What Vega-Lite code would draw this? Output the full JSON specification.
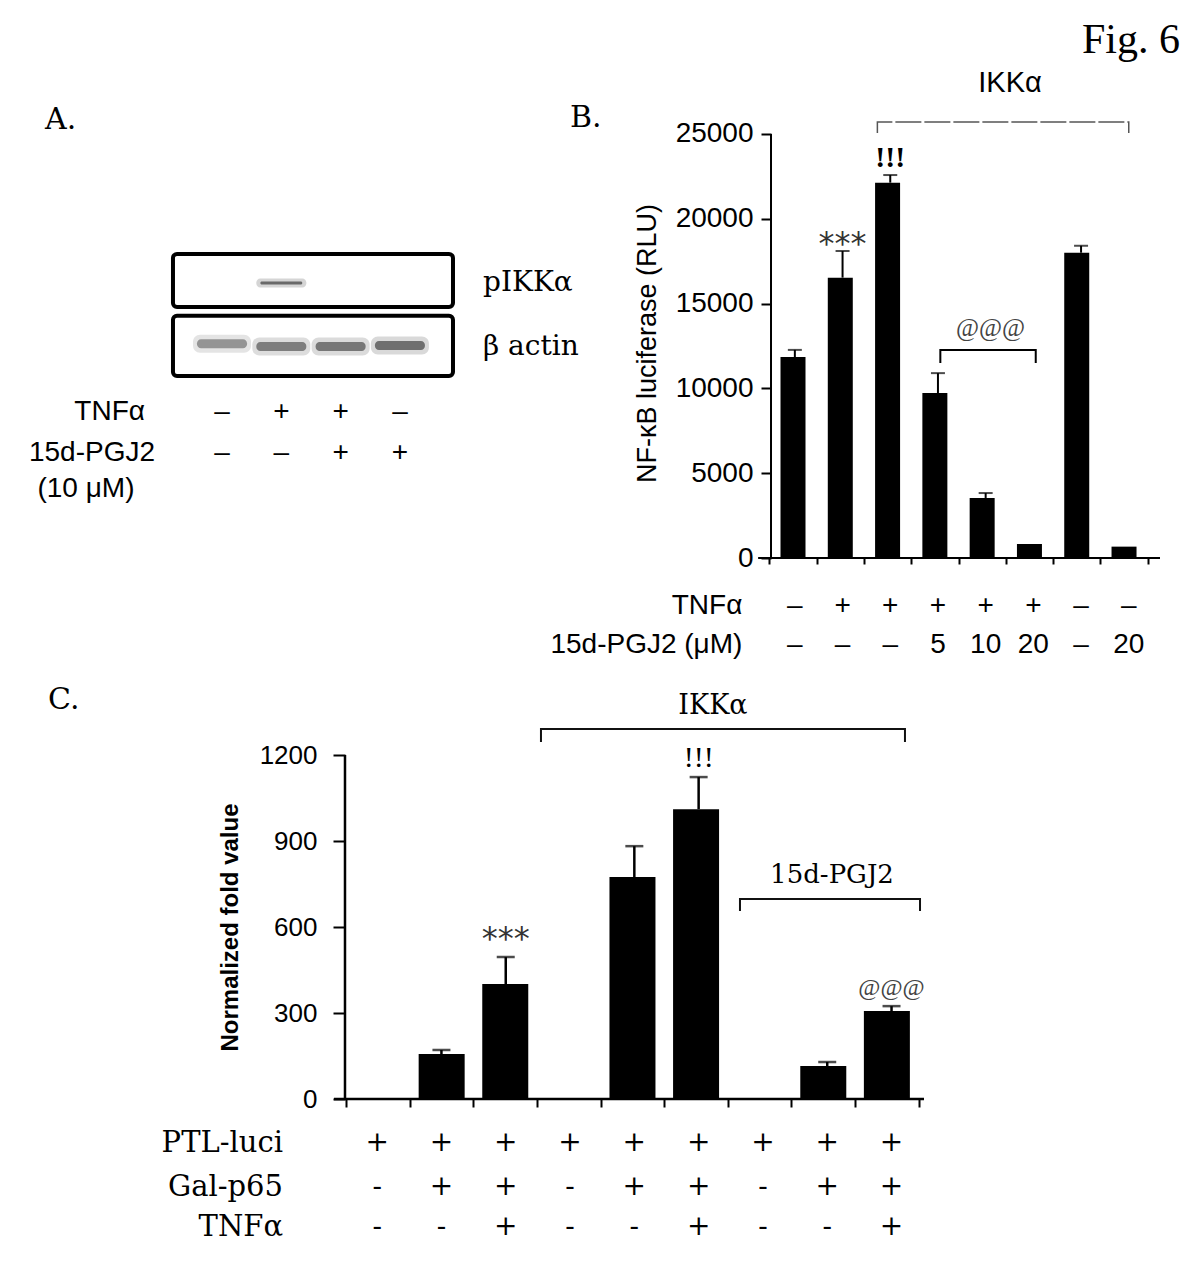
{
  "$schema": "https://vega.github.io/schema/vega-lite/v6.json",
  "padding": 0,
  "background": "white",
  "config": {"view": {"stroke": null}, "axis": {"grid": false}, "font": "Liberation Sans"},
  "datasets": {
    "b": [
      {"i": 1, "tnf": "–", "pgj": "–", "v": 11850, "e": 12270},
      {"i": 2, "tnf": "+", "pgj": "–", "v": 16530, "e": 18100},
      {"i": 3, "tnf": "+", "pgj": "–", "v": 22130, "e": 22580},
      {"i": 4, "tnf": "+", "pgj": "5", "v": 9730, "e": 10900},
      {"i": 5, "tnf": "+", "pgj": "10", "v": 3540, "e": 3830},
      {"i": 6, "tnf": "+", "pgj": "20", "v": 820, "e": 820},
      {"i": 7, "tnf": "–", "pgj": "–", "v": 18000, "e": 18410},
      {"i": 8, "tnf": "–", "pgj": "20", "v": 670, "e": 670}
    ],
    "b_axes": [
      {"x0": 0.5, "x1": 0.5, "y0": 0, "y1": 25000},
      {"x0": 0.23, "x1": 8.655, "y0": 0, "y1": 0}
    ],
    "b_brackets": [
      {"grp": "IKKα", "o": 1, "x": 2.73, "y": 25058},
      {"grp": "IKKα", "o": 2, "x": 2.73, "y": 25707},
      {"grp": "IKKα", "o": 3, "x": 8.0, "y": 25707},
      {"grp": "IKKα", "o": 4, "x": 8.0, "y": 25058},
      {"grp": "@@@", "o": 1, "x": 4.05, "y": 11497},
      {"grp": "@@@", "o": 2, "x": 4.05, "y": 12264},
      {"grp": "@@@", "o": 3, "x": 6.05, "y": 12264},
      {"grp": "@@@", "o": 4, "x": 6.05, "y": 11497}
    ],
    "c": [
      {"i": 1, "ptl": "+", "gal": "-", "tnf": "-", "v": 0, "e": 0},
      {"i": 2, "ptl": "+", "gal": "+", "tnf": "-", "v": 157, "e": 171},
      {"i": 3, "ptl": "+", "gal": "+", "tnf": "+", "v": 401, "e": 495},
      {"i": 4, "ptl": "+", "gal": "-", "tnf": "-", "v": 0, "e": 0},
      {"i": 5, "ptl": "+", "gal": "+", "tnf": "-", "v": 774, "e": 882},
      {"i": 6, "ptl": "+", "gal": "+", "tnf": "+", "v": 1011, "e": 1123},
      {"i": 7, "ptl": "+", "gal": "-", "tnf": "-", "v": 0, "e": 0},
      {"i": 8, "ptl": "+", "gal": "+", "tnf": "-", "v": 115, "e": 129},
      {"i": 9, "ptl": "+", "gal": "+", "tnf": "+", "v": 307, "e": 324}
    ],
    "c_axes": [
      {"x0": 0.5, "x1": 0.5, "y0": 0, "y1": 1200},
      {"x0": 0.329, "x1": 9.505, "y0": 0, "y1": 0}
    ],
    "c_brackets": [
      {"grp": "IKKα", "o": 1, "x": 3.548, "y": 1245},
      {"grp": "IKKα", "o": 2, "x": 3.548, "y": 1291},
      {"grp": "IKKα", "o": 3, "x": 9.209, "y": 1291},
      {"grp": "IKKα", "o": 4, "x": 9.209, "y": 1245},
      {"grp": "15d", "o": 1, "x": 6.643, "y": 656},
      {"grp": "15d", "o": 2, "x": 6.643, "y": 698},
      {"grp": "15d", "o": 3, "x": 9.443, "y": 698},
      {"grp": "15d", "o": 4, "x": 9.443, "y": 656}
    ],
    "a_lanes": [
      {"lane": 1, "tnf": "–", "pgj": "–"},
      {"lane": 2, "tnf": "+", "pgj": "–"},
      {"lane": 3, "tnf": "+", "pgj": "+"},
      {"lane": 4, "tnf": "–", "pgj": "+"}
    ],
    "a_blots": [
      {"blot": "pIKKα", "l0": 0.173, "l1": 4.895, "p0": 45.5, "p1": 55.0, "lp": 50.7},
      {"blot": "β actin", "l0": 0.173, "l1": 4.895, "p0": 56.6, "p1": 67.4, "lp": 62.2}
    ],
    "a_bands": [
      {"blot": "pIKKα", "lane": 2, "p": 50.7, "intensity": 0.75},
      {"blot": "β actin", "lane": 1, "p": 61.6, "intensity": 0.6},
      {"blot": "β actin", "lane": 2, "p": 62.1, "intensity": 0.75},
      {"blot": "β actin", "lane": 3, "p": 62.1, "intensity": 0.8},
      {"blot": "β actin", "lane": 4, "p": 61.9, "intensity": 0.85}
    ]
  },
  "bounds": "flush",
  "spacing": 197,
  "vconcat": [
    {
      "width": 1160,
      "height": 558,
      "resolve": {"scale": {"x": "independent", "y": "independent"}},
      "layer": [
        {
          "data": {"name": "a_blots"},
          "mark": {"type": "rect", "fillOpacity": 0, "stroke": "black", "strokeWidth": 4, "cornerRadius": 4},
          "encoding": {
            "x": {"field": "l0", "type": "quantitative", "scale": {"domain": [-2.744, 16.8176], "nice": false, "zero": false}, "axis": null},
            "x2": {"field": "l1"},
            "y": {"field": "p0", "type": "quantitative", "scale": {"domain": [0, 100], "nice": false, "zero": false, "reverse": true}, "axis": null},
            "y2": {"field": "p1"}
          }
        },
        {
          "data": {"name": "a_bands"},
          "transform": [{"filter": "datum.blot == 'pIKKα'"}],
          "mark": {"type": "tick", "orient": "horizontal", "size": 50, "thickness": 9, "color": "#222", "fillOpacity": 0.25, "cornerRadius": 4},
          "encoding": {
            "x": {"field": "lane", "type": "quantitative", "scale": {"domain": [-2.744, 16.8176], "nice": false, "zero": false}, "axis": null},
            "y": {"field": "p", "type": "quantitative", "scale": {"domain": [0, 100], "nice": false, "zero": false, "reverse": true}, "axis": null},
            "opacity": {"field": "intensity", "type": "quantitative", "scale": {"domain": [0, 1], "range": [0, 1]}, "legend": null}
          }
        },
        {
          "data": {"name": "a_bands"},
          "transform": [{"filter": "datum.blot == 'pIKKα'"}],
          "mark": {"type": "tick", "orient": "horizontal", "size": 42, "thickness": 3, "color": "#222", "fillOpacity": 0.8, "cornerRadius": 2},
          "encoding": {
            "x": {"field": "lane", "type": "quantitative", "scale": {"domain": [-2.744, 16.8176], "nice": false, "zero": false}, "axis": null},
            "y": {"field": "p", "type": "quantitative", "scale": {"domain": [0, 100], "nice": false, "zero": false, "reverse": true}, "axis": null},
            "opacity": {"field": "intensity", "type": "quantitative", "scale": {"domain": [0, 1], "range": [0, 1]}, "legend": null}
          }
        },
        {
          "data": {"name": "a_bands"},
          "transform": [{"filter": "datum.blot == 'β actin'"}],
          "mark": {"type": "tick", "orient": "horizontal", "size": 58, "thickness": 18, "color": "#333", "fillOpacity": 0.22, "cornerRadius": 7},
          "encoding": {
            "x": {"field": "lane", "type": "quantitative", "scale": {"domain": [-2.744, 16.8176], "nice": false, "zero": false}, "axis": null},
            "y": {"field": "p", "type": "quantitative", "scale": {"domain": [0, 100], "nice": false, "zero": false, "reverse": true}, "axis": null},
            "opacity": {"field": "intensity", "type": "quantitative", "scale": {"domain": [0, 1], "range": [0, 1]}, "legend": null}
          }
        },
        {
          "data": {"name": "a_bands"},
          "transform": [{"filter": "datum.blot == 'β actin'"}],
          "mark": {"type": "tick", "orient": "horizontal", "size": 50, "thickness": 9, "color": "#333", "fillOpacity": 0.75, "cornerRadius": 4},
          "encoding": {
            "x": {"field": "lane", "type": "quantitative", "scale": {"domain": [-2.744, 16.8176], "nice": false, "zero": false}, "axis": null},
            "y": {"field": "p", "type": "quantitative", "scale": {"domain": [0, 100], "nice": false, "zero": false, "reverse": true}, "axis": null},
            "opacity": {"field": "intensity", "type": "quantitative", "scale": {"domain": [0, 1], "range": [0, 1]}, "legend": null}
          }
        },
        {
          "data": {"name": "a_blots"},
          "mark": {"type": "text", "font": "DejaVu Serif", "fontSize": 28, "align": "left", "baseline": "middle", "color": "black"},
          "encoding": {
            "x": {"datum": 5.401, "type": "quantitative", "scale": {"domain": [-2.744, 16.8176], "nice": false, "zero": false}, "axis": null},
            "y": {"field": "lp", "type": "quantitative", "scale": {"domain": [0, 100], "nice": false, "zero": false, "reverse": true}, "axis": null},
            "text": {"field": "blot"}
          }
        },
        {
          "data": {"name": "a_lanes"},
          "mark": {"type": "text", "font": "Liberation Sans", "fontSize": 28, "align": "center", "baseline": "middle", "color": "black"},
          "encoding": {
            "x": {"field": "lane", "type": "quantitative", "scale": {"domain": [-2.744, 16.8176], "nice": false, "zero": false}, "axis": null},
            "y": {"datum": 73.84, "type": "quantitative", "scale": {"domain": [0, 100], "nice": false, "zero": false, "reverse": true}, "axis": null},
            "text": {"field": "tnf"}
          }
        },
        {
          "data": {"name": "a_lanes"},
          "mark": {"type": "text", "font": "Liberation Sans", "fontSize": 28, "align": "center", "baseline": "middle", "color": "black"},
          "encoding": {
            "x": {"field": "lane", "type": "quantitative", "scale": {"domain": [-2.744, 16.8176], "nice": false, "zero": false}, "axis": null},
            "y": {"datum": 81.18, "type": "quantitative", "scale": {"domain": [0, 100], "nice": false, "zero": false, "reverse": true}, "axis": null},
            "text": {"field": "pgj"}
          }
        },
        {
          "data": {"values": [{"t": "TNFα", "x": -0.299, "y": 73.84}, {"t": "15d-PGJ2", "x": -0.13, "y": 81.18}]},
          "mark": {"type": "text", "font": "Liberation Sans", "fontSize": 28, "align": "right", "baseline": "middle", "color": "black"},
          "encoding": {
            "x": {"field": "x", "type": "quantitative", "scale": {"domain": [-2.744, 16.8176], "nice": false, "zero": false}, "axis": null},
            "y": {"field": "y", "type": "quantitative", "scale": {"domain": [0, 100], "nice": false, "zero": false, "reverse": true}, "axis": null},
            "text": {"field": "t"}
          }
        },
        {
          "data": {"values": [{"t": "(10 μM)", "x": -1.294, "y": 87.63}]},
          "mark": {"type": "text", "font": "Liberation Sans", "fontSize": 28, "align": "center", "baseline": "middle", "color": "black"},
          "encoding": {
            "x": {"field": "x", "type": "quantitative", "scale": {"domain": [-2.744, 16.8176], "nice": false, "zero": false}, "axis": null},
            "y": {"field": "y", "type": "quantitative", "scale": {"domain": [0, 100], "nice": false, "zero": false, "reverse": true}, "axis": null},
            "text": {"field": "t"}
          }
        },
        {
          "data": {"values": [{"t": "A.", "x": -1.985, "y": 21.5}]},
          "mark": {"type": "text", "font": "DejaVu Serif", "fontSize": 30, "align": "left", "baseline": "middle", "color": "black"},
          "encoding": {
            "x": {"field": "x", "type": "quantitative", "scale": {"domain": [-2.744, 16.8176], "nice": false, "zero": false}, "axis": null},
            "y": {"field": "y", "type": "quantitative", "scale": {"domain": [0, 100], "nice": false, "zero": false, "reverse": true}, "axis": null},
            "text": {"field": "t"}
          }
        },
        {
          "data": {"name": "b"},
          "mark": {"type": "bar", "orient": "vertical", "width": 25, "color": "black"},
          "encoding": {
            "x": {"field": "i", "type": "quantitative", "scale": {"domain": [-15.6635, 8.655], "nice": false, "zero": false}, "title": null,
              "axis": {"values": [0.5, 1.5, 2.5, 3.5, 4.5, 5.5, 6.5, 7.5, 8.5], "labels": false, "domain": false, "tickSize": 6, "tickWidth": 2, "tickColor": "black", "grid": false, "title": null}},
            "y": {"field": "v", "type": "quantitative", "scale": {"domain": [0, 32900], "nice": false, "zero": false}, "title": null,
              "axis": {"values": [0, 5000, 10000, 15000, 20000, 25000], "format": "d", "offset": -771, "domain": false, "tickSize": 10, "tickWidth": 2, "tickColor": "black",
                "labelFont": "Liberation Sans", "labelFontSize": 28, "labelColor": "black", "labelPadding": 8, "grid": false,
                "title": "NF-κB luciferase (RLU)", "titleFont": "Liberation Sans", "titleFontSize": 27, "titleFontWeight": "normal", "titleColor": "black", "titleX": -110, "titleY": 343}}
          }
        },
        {
          "data": {"name": "b"},
          "transform": [{"filter": "datum.e > datum.v"}],
          "mark": {"type": "rule", "strokeWidth": 2, "color": "black"},
          "encoding": {
            "x": {"field": "i", "type": "quantitative", "scale": {"domain": [-15.6635, 8.655], "nice": false, "zero": false}, "axis": null},
            "y": {"field": "v", "type": "quantitative", "scale": {"domain": [0, 32900], "nice": false, "zero": false}, "axis": null},
            "y2": {"field": "e"}
          }
        },
        {
          "data": {"name": "b"},
          "transform": [{"filter": "datum.e > datum.v"}],
          "mark": {"type": "tick", "orient": "horizontal", "size": 14, "thickness": 2, "color": "black"},
          "encoding": {
            "x": {"field": "i", "type": "quantitative", "scale": {"domain": [-15.6635, 8.655], "nice": false, "zero": false}, "axis": null},
            "y": {"field": "e", "type": "quantitative", "scale": {"domain": [0, 32900], "nice": false, "zero": false}, "axis": null}
          }
        },
        {
          "data": {"name": "b_axes"},
          "mark": {"type": "rule", "strokeWidth": 2, "color": "black"},
          "encoding": {
            "x": {"field": "x0", "type": "quantitative", "scale": {"domain": [-15.6635, 8.655], "nice": false, "zero": false}, "axis": null},
            "x2": {"field": "x1"},
            "y": {"field": "y0", "type": "quantitative", "scale": {"domain": [0, 32900], "nice": false, "zero": false}, "axis": null},
            "y2": {"field": "y1"}
          }
        },
        {
          "data": {"name": "b"},
          "mark": {"type": "text", "font": "Liberation Sans", "fontSize": 28, "align": "center", "baseline": "middle", "color": "black"},
          "encoding": {
            "x": {"field": "i", "type": "quantitative", "scale": {"domain": [-15.6635, 8.655], "nice": false, "zero": false}, "axis": null},
            "y": {"datum": -2830, "type": "quantitative", "scale": {"domain": [0, 32900], "nice": false, "zero": false}, "axis": null},
            "text": {"field": "tnf"}
          }
        },
        {
          "data": {"name": "b"},
          "mark": {"type": "text", "font": "Liberation Sans", "fontSize": 28, "align": "center", "baseline": "middle", "color": "black"},
          "encoding": {
            "x": {"field": "i", "type": "quantitative", "scale": {"domain": [-15.6635, 8.655], "nice": false, "zero": false}, "axis": null},
            "y": {"datum": -5130, "type": "quantitative", "scale": {"domain": [0, 32900], "nice": false, "zero": false}, "axis": null},
            "text": {"field": "pgj"}
          }
        },
        {
          "data": {"values": [{"t": "TNFα", "x": -0.1, "y": -2830}, {"t": "15d-PGJ2 (μM)", "x": -0.1, "y": -5130}]},
          "mark": {"type": "text", "font": "Liberation Sans", "fontSize": 28, "align": "right", "baseline": "middle", "color": "black"},
          "encoding": {
            "x": {"field": "x", "type": "quantitative", "scale": {"domain": [-15.6635, 8.655], "nice": false, "zero": false}, "axis": null},
            "y": {"field": "y", "type": "quantitative", "scale": {"domain": [0, 32900], "nice": false, "zero": false}, "axis": null},
            "text": {"field": "t"}
          }
        },
        {
          "data": {"name": "b_brackets"},
          "transform": [{"filter": "datum.grp == 'IKKα'"}],
          "mark": {"type": "line", "color": "#555", "strokeWidth": 1.5, "strokeDash": [26, 3], "strokeCap": "butt"},
          "encoding": {
            "x": {"field": "x", "type": "quantitative", "scale": {"domain": [-15.6635, 8.655], "nice": false, "zero": false}, "axis": null},
            "y": {"field": "y", "type": "quantitative", "scale": {"domain": [0, 32900], "nice": false, "zero": false}, "axis": null},
            "order": {"field": "o"}
          }
        },
        {
          "data": {"name": "b_brackets"},
          "transform": [{"filter": "datum.grp == '@@@'"}],
          "mark": {"type": "line", "color": "black", "strokeWidth": 2, "strokeCap": "butt"},
          "encoding": {
            "x": {"field": "x", "type": "quantitative", "scale": {"domain": [-15.6635, 8.655], "nice": false, "zero": false}, "axis": null},
            "y": {"field": "y", "type": "quantitative", "scale": {"domain": [0, 32900], "nice": false, "zero": false}, "axis": null},
            "order": {"field": "o"}
          }
        },
        {
          "data": {"values": [{"t": "IKKα", "x": 5.51, "y": 28006}]},
          "mark": {"type": "text", "font": "Liberation Sans", "fontSize": 29, "align": "center", "baseline": "middle", "color": "black"},
          "encoding": {
            "x": {"field": "x", "type": "quantitative", "scale": {"domain": [-15.6635, 8.655], "nice": false, "zero": false}, "axis": null},
            "y": {"field": "y", "type": "quantitative", "scale": {"domain": [0, 32900], "nice": false, "zero": false}, "axis": null},
            "text": {"field": "t"}
          }
        },
        {
          "data": {"values": [{"t": "***", "x": 2, "y": 17950}]},
          "mark": {"type": "text", "font": "DejaVu Sans", "fontSize": 32, "align": "center", "baseline": "alphabetic", "color": "#333"},
          "encoding": {
            "x": {"field": "x", "type": "quantitative", "scale": {"domain": [-15.6635, 8.655], "nice": false, "zero": false}, "axis": null},
            "y": {"field": "y", "type": "quantitative", "scale": {"domain": [0, 32900], "nice": false, "zero": false}, "axis": null},
            "text": {"field": "t"}
          }
        },
        {
          "data": {"values": [{"t": "!!!", "x": 3, "y": 23053}]},
          "mark": {"type": "text", "font": "Liberation Serif", "fontSize": 30, "fontWeight": "bold", "align": "center", "baseline": "alphabetic", "color": "black"},
          "encoding": {
            "x": {"field": "x", "type": "quantitative", "scale": {"domain": [-15.6635, 8.655], "nice": false, "zero": false}, "axis": null},
            "y": {"field": "y", "type": "quantitative", "scale": {"domain": [0, 32900], "nice": false, "zero": false}, "axis": null},
            "text": {"field": "t"}
          }
        },
        {
          "data": {"values": [{"t": "@@@", "x": 5.1, "y": 13089}]},
          "mark": {"type": "text", "font": "Liberation Serif", "fontSize": 25, "align": "center", "baseline": "alphabetic", "color": "#444"},
          "encoding": {
            "x": {"field": "x", "type": "quantitative", "scale": {"domain": [-15.6635, 8.655], "nice": false, "zero": false}, "axis": null},
            "y": {"field": "y", "type": "quantitative", "scale": {"domain": [0, 32900], "nice": false, "zero": false}, "axis": null},
            "text": {"field": "t"}
          }
        },
        {
          "data": {"values": [{"t": "B.", "x": -3.714, "y": 25942}]},
          "mark": {"type": "text", "font": "DejaVu Serif", "fontSize": 30, "align": "left", "baseline": "middle", "color": "black"},
          "encoding": {
            "x": {"field": "x", "type": "quantitative", "scale": {"domain": [-15.6635, 8.655], "nice": false, "zero": false}, "axis": null},
            "y": {"field": "y", "type": "quantitative", "scale": {"domain": [0, 32900], "nice": false, "zero": false}, "axis": null},
            "text": {"field": "t"}
          }
        },
        {
          "data": {"values": [{"t": "Fig. 6", "x": 9.074, "y": 29775}]},
          "mark": {"type": "text", "font": "Liberation Serif", "fontSize": 42, "align": "right", "baseline": "alphabetic", "color": "black"},
          "encoding": {
            "x": {"field": "x", "type": "quantitative", "scale": {"domain": [-15.6635, 8.655], "nice": false, "zero": false}, "axis": null},
            "y": {"field": "y", "type": "quantitative", "scale": {"domain": [0, 32900], "nice": false, "zero": false}, "axis": null},
            "text": {"field": "t"}
          }
        }
      ]
    },
    {
      "width": 924,
      "height": 344,
      "data": {"name": "c"},
      "resolve": {"scale": {"x": "independent", "y": "independent"}},
      "layer": [
        {
          "mark": {"type": "bar", "orient": "vertical", "width": 46, "color": "black"},
          "encoding": {
            "x": {"field": "i", "type": "quantitative", "scale": {"domain": [-4.8654, 9.505], "nice": false, "zero": false}, "title": null,
              "axis": {"values": [0.5, 1.5, 2.5, 3.5, 4.5, 5.5, 6.5, 7.5, 8.5, 9.5], "labels": false, "domain": false, "tickSize": 8, "tickWidth": 2, "tickColor": "black", "grid": false, "title": null}},
            "y": {"field": "v", "type": "quantitative", "scale": {"domain": [0, 1200], "nice": false, "zero": false}, "title": null,
              "axis": {"values": [0, 300, 600, 900, 1200], "format": "d", "offset": -345, "domain": false, "tickSize": 12, "tickWidth": 2, "tickColor": "black",
                "labelFont": "Liberation Sans", "labelFontSize": 26, "labelColor": "black", "labelPadding": 16, "grid": false,
                "title": "Normalized fold value", "titleFont": "Liberation Sans", "titleFontSize": 24, "titleFontWeight": "bold", "titleColor": "black", "titleX": -103, "titleY": 172}}
          }
        },
        {
          "transform": [{"filter": "datum.e > datum.v"}],
          "mark": {"type": "rule", "strokeWidth": 2.5, "color": "black"},
          "encoding": {
            "x": {"field": "i", "type": "quantitative", "scale": {"domain": [-4.8654, 9.505], "nice": false, "zero": false}, "axis": null},
            "y": {"field": "v", "type": "quantitative", "scale": {"domain": [0, 1200], "nice": false, "zero": false}, "axis": null},
            "y2": {"field": "e"}
          }
        },
        {
          "transform": [{"filter": "datum.e > datum.v"}],
          "mark": {"type": "tick", "orient": "horizontal", "size": 18, "thickness": 2.5, "color": "black"},
          "encoding": {
            "x": {"field": "i", "type": "quantitative", "scale": {"domain": [-4.8654, 9.505], "nice": false, "zero": false}, "axis": null},
            "y": {"field": "e", "type": "quantitative", "scale": {"domain": [0, 1200], "nice": false, "zero": false}, "axis": null}
          }
        },
        {
          "data": {"name": "c_axes"},
          "mark": {"type": "rule", "strokeWidth": 2.5, "color": "black"},
          "encoding": {
            "x": {"field": "x0", "type": "quantitative", "scale": {"domain": [-4.8654, 9.505], "nice": false, "zero": false}, "axis": null},
            "x2": {"field": "x1"},
            "y": {"field": "y0", "type": "quantitative", "scale": {"domain": [0, 1200], "nice": false, "zero": false}, "axis": null},
            "y2": {"field": "y1"}
          }
        },
        {
          "mark": {"type": "text", "font": "DejaVu Serif", "fontSize": 28, "align": "center", "baseline": "middle", "color": "black"},
          "encoding": {
            "x": {"field": "i", "type": "quantitative", "scale": {"domain": [-4.8654, 9.505], "nice": false, "zero": false}, "axis": null},
            "y": {"datum": -153.5, "type": "quantitative", "scale": {"domain": [0, 1200], "nice": false, "zero": false}, "axis": null},
            "text": {"field": "ptl"}
          }
        },
        {
          "mark": {"type": "text", "font": "DejaVu Serif", "fontSize": 28, "align": "center", "baseline": "middle", "color": "black"},
          "encoding": {
            "x": {"field": "i", "type": "quantitative", "scale": {"domain": [-4.8654, 9.505], "nice": false, "zero": false}, "axis": null},
            "y": {"datum": -307, "type": "quantitative", "scale": {"domain": [0, 1200], "nice": false, "zero": false}, "axis": null},
            "text": {"field": "gal"}
          }
        },
        {
          "mark": {"type": "text", "font": "DejaVu Serif", "fontSize": 28, "align": "center", "baseline": "middle", "color": "black"},
          "encoding": {
            "x": {"field": "i", "type": "quantitative", "scale": {"domain": [-4.8654, 9.505], "nice": false, "zero": false}, "axis": null},
            "y": {"datum": -446.5, "type": "quantitative", "scale": {"domain": [0, 1200], "nice": false, "zero": false}, "axis": null},
            "text": {"field": "tnf"}
          }
        },
        {
          "data": {"values": [{"t": "PTL-luci", "x": -0.464, "y": -153.5}, {"t": "Gal-p65", "x": -0.464, "y": -307}, {"t": "TNFα", "x": -0.464, "y": -446.5}]},
          "mark": {"type": "text", "font": "DejaVu Serif", "fontSize": 29, "align": "right", "baseline": "middle", "color": "black"},
          "encoding": {
            "x": {"field": "x", "type": "quantitative", "scale": {"domain": [-4.8654, 9.505], "nice": false, "zero": false}, "axis": null},
            "y": {"field": "y", "type": "quantitative", "scale": {"domain": [0, 1200], "nice": false, "zero": false}, "axis": null},
            "text": {"field": "t"}
          }
        },
        {
          "data": {"name": "c_brackets"},
          "mark": {"type": "line", "color": "#111", "strokeWidth": 2, "strokeCap": "butt"},
          "encoding": {
            "x": {"field": "x", "type": "quantitative", "scale": {"domain": [-4.8654, 9.505], "nice": false, "zero": false}, "axis": null},
            "y": {"field": "y", "type": "quantitative", "scale": {"domain": [0, 1200], "nice": false, "zero": false}, "axis": null},
            "detail": {"field": "grp"},
            "order": {"field": "o"}
          }
        },
        {
          "data": {"values": [{"t": "IKKα", "x": 6.223, "y": 1371}]},
          "mark": {"type": "text", "font": "DejaVu Serif", "fontSize": 27, "align": "center", "baseline": "middle", "color": "black"},
          "encoding": {
            "x": {"field": "x", "type": "quantitative", "scale": {"domain": [-4.8654, 9.505], "nice": false, "zero": false}, "axis": null},
            "y": {"field": "y", "type": "quantitative", "scale": {"domain": [0, 1200], "nice": false, "zero": false}, "axis": null},
            "text": {"field": "t"}
          }
        },
        {
          "data": {"values": [{"t": "15d-PGJ2", "x": 8.074, "y": 781}]},
          "mark": {"type": "text", "font": "DejaVu Serif", "fontSize": 26, "align": "center", "baseline": "middle", "color": "black"},
          "encoding": {
            "x": {"field": "x", "type": "quantitative", "scale": {"domain": [-4.8654, 9.505], "nice": false, "zero": false}, "axis": null},
            "y": {"field": "y", "type": "quantitative", "scale": {"domain": [0, 1200], "nice": false, "zero": false}, "axis": null},
            "text": {"field": "t"}
          }
        },
        {
          "data": {"values": [{"t": "***", "x": 3, "y": 525}]},
          "mark": {"type": "text", "font": "DejaVu Sans", "fontSize": 32, "align": "center", "baseline": "alphabetic", "color": "#333"},
          "encoding": {
            "x": {"field": "x", "type": "quantitative", "scale": {"domain": [-4.8654, 9.505], "nice": false, "zero": false}, "axis": null},
            "y": {"field": "y", "type": "quantitative", "scale": {"domain": [0, 1200], "nice": false, "zero": false}, "axis": null},
            "text": {"field": "t"}
          }
        },
        {
          "data": {"values": [{"t": "!!!", "x": 6, "y": 1158}]},
          "mark": {"type": "text", "font": "Liberation Serif", "fontSize": 30, "align": "center", "baseline": "alphabetic", "color": "black"},
          "encoding": {
            "x": {"field": "x", "type": "quantitative", "scale": {"domain": [-4.8654, 9.505], "nice": false, "zero": false}, "axis": null},
            "y": {"field": "y", "type": "quantitative", "scale": {"domain": [0, 1200], "nice": false, "zero": false}, "axis": null},
            "text": {"field": "t"}
          }
        },
        {
          "data": {"values": [{"t": "@@@", "x": 9, "y": 363}]},
          "mark": {"type": "text", "font": "Liberation Serif", "fontSize": 24, "align": "center", "baseline": "alphabetic", "color": "#444"},
          "encoding": {
            "x": {"field": "x", "type": "quantitative", "scale": {"domain": [-4.8654, 9.505], "nice": false, "zero": false}, "axis": null},
            "y": {"field": "y", "type": "quantitative", "scale": {"domain": [0, 1200], "nice": false, "zero": false}, "axis": null},
            "text": {"field": "t"}
          }
        },
        {
          "data": {"values": [{"t": "C.", "x": -4.119, "y": 1392}]},
          "mark": {"type": "text", "font": "DejaVu Serif", "fontSize": 30, "align": "left", "baseline": "middle", "color": "black"},
          "encoding": {
            "x": {"field": "x", "type": "quantitative", "scale": {"domain": [-4.8654, 9.505], "nice": false, "zero": false}, "axis": null},
            "y": {"field": "y", "type": "quantitative", "scale": {"domain": [0, 1200], "nice": false, "zero": false}, "axis": null},
            "text": {"field": "t"}
          }
        }
      ]
    }
  ]
}
